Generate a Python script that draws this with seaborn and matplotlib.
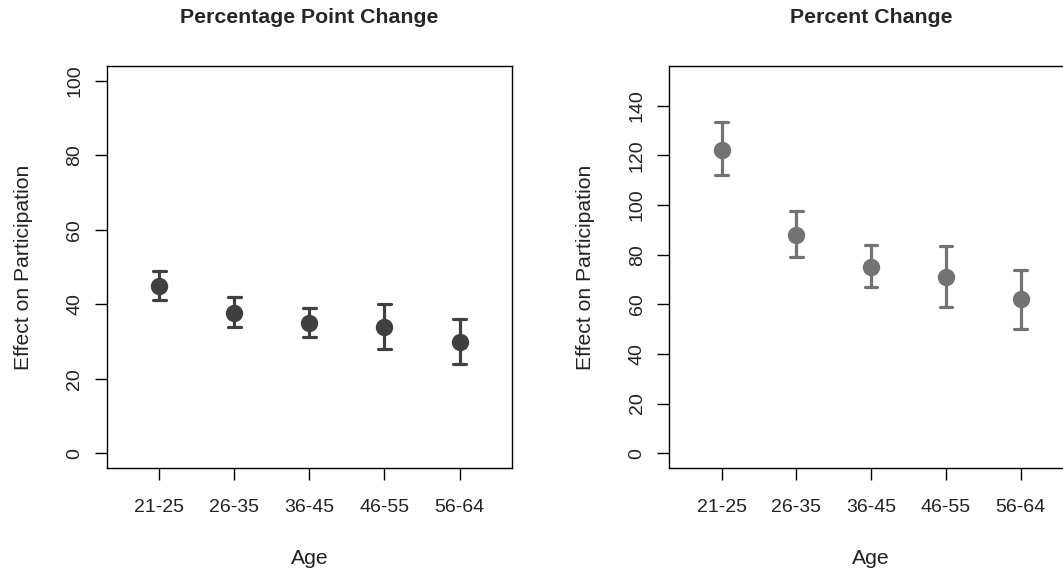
import numpy as np
import pandas as pd
import matplotlib
matplotlib.use("Agg")
import matplotlib.pyplot as plt
import seaborn as sns

# ---- data ----
ages = ["21-25", "26-35", "36-45", "46-55", "56-64"]

pp_est = [45, 37.7, 35, 34, 30]
pp_low = [41.2, 34, 31.2, 28, 24]
pp_high = [49, 42, 39, 40, 36]

pc_est = [122.3, 88, 75, 71, 62]
pc_low = [112, 79, 67, 59, 50]
pc_high = [133.5, 97.5, 84, 83.5, 74]

titles = ["Percentage Point Change", "Percent Change"]
ylabel = "Effect on Participation"
xlabel = "Age"


def long_frame(est, low, high):
    rows = []
    for a, e, l, h in zip(ages, est, low, high):
        for v in (l, e, h):
            rows.append({"Age": a, "value": v})
    return pd.DataFrame(rows)


sns.set_style("ticks")
plt.rcParams["font.family"] = ["Liberation Sans", "DejaVu Sans"]

fig = plt.figure(figsize=(10.63, 5.75), dpi=100)
ax1 = fig.add_axes([0.1004, 0.186, 0.3813, 0.699])
ax2 = fig.add_axes([0.6296, 0.186, 0.3798, 0.699])

panels = [
    (ax1, long_frame(pp_est, pp_low, pp_high), "#404040", (-4, 104), np.arange(0, 101, 20)),
    (ax2, long_frame(pc_est, pc_low, pc_high), "#737373", (-6, 156), np.arange(0, 141, 20)),
]

for (ax, df, col, ylim, yt), title in zip(panels, titles):
    sns.pointplot(data=df, x="Age", y="value", order=ages,
                  estimator="median", errorbar=("pi", 100),
                  color=col, linestyle="none", markers="o",
                  markersize=10.5, err_kws={"linewidth": 2.3},
                  capsize=0.17, ax=ax)
    ax.set_xlim(-0.7, 4.7)
    ax.set_ylim(*ylim)
    ax.set_yticks(yt)
    ax.set_yticklabels([str(v) for v in yt], rotation=90, va="center")
    for s in ax.spines.values():
        s.set_visible(True)
        s.set_color("black")
        s.set_linewidth(1.0)
    ax.tick_params(axis="both", length=8.5, width=1.0, color="black",
                   labelsize=14, labelcolor="#222222")
    ax.tick_params(axis="x", pad=13.5)
    ax.tick_params(axis="y", pad=8.5)
    ax.set_xlabel(xlabel, fontsize=15.2, color="#222222", labelpad=24)
    ax.set_ylabel(ylabel, fontsize=15.2, color="#222222", labelpad=24)
    ax.set_title(title, fontsize=15.3, fontweight="bold", pad=31)
    ax.grid(False)

fig.savefig("out.png", dpi=100, facecolor="white")
